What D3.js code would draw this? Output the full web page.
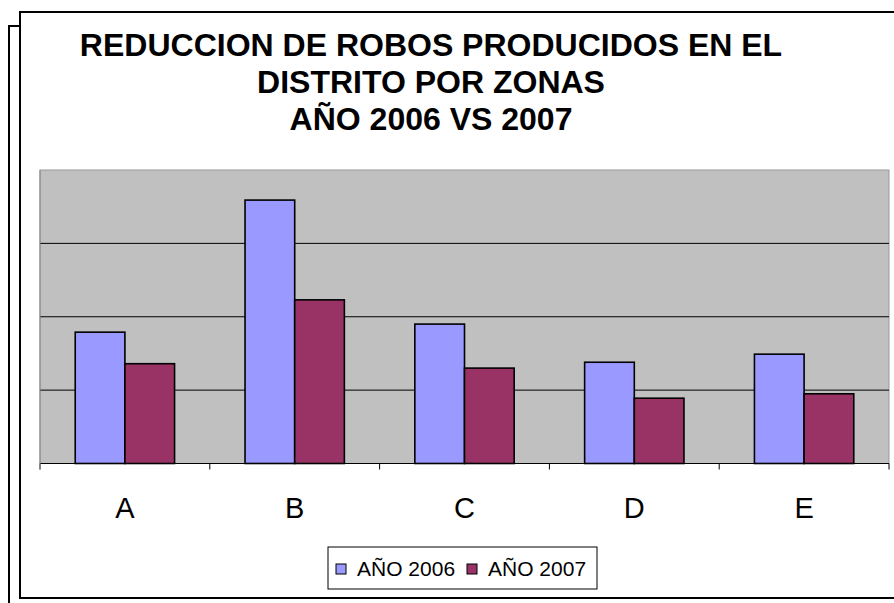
<!doctype html>
<html>
  <head>
    <meta charset="utf-8" />
    <title>Reduccion de robos</title>
    <style>
      body { margin: 0; background: #fff; }
      svg { display: block; font-family: "Liberation Sans", Arial, sans-serif; }
    </style>
  </head>
  <body>
    <svg id="chart" width="894" height="603"></svg>
    <script src="https://d3js.org/d3.v7.min.js"></script>
    <script>
      // data (no y labels shown, units are arbitrary)
      const zonas = ['A', 'B', 'C', 'D', 'E'];
      const series = ['AÑO 2006', 'AÑO 2007'];
      const valores2006 = [17.9, 35.9, 19.0, 13.8, 14.9];
      const valores2007 = [13.6, 22.3, 13.0, 8.9, 9.5];
      const colores = ['#9999FF', '#993366'];
      const titulo = [
        'REDUCCION DE ROBOS PRODUCIDOS EN EL',
        'DISTRITO POR ZONAS',
        'AÑO 2006 VS 2007',
      ];

      const svg = d3.select('#chart');

      // the two frames
      svg.append('rect')
        .attr('x', 9).attr('y', 26).attr('width', 900).attr('height', 600)
        .attr('fill', 'none').attr('stroke', '#000').attr('stroke-width', 2);
      svg.append('rect')
        .attr('x', 20).attr('y', 12).attr('width', 900).attr('height', 586)
        .attr('fill', '#fff').attr('stroke', '#000').attr('stroke-width', 2);

      // title
      svg.append('g')
        .selectAll('text')
        .data(titulo)
        .join('text')
        .attr('x', 431)
        .attr('y', (d, i) => 56 + i * 37)
        .attr('text-anchor', 'middle')
        .attr('font-size', 32)
        .attr('font-weight', 'bold')
        .text((d) => d);

      const plot = { left: 40, right: 889, top: 170, bottom: 463.5 };

      const x = d3.scaleBand().domain(zonas).range([plot.left, plot.right]);
      // the two bars fill the middle 58.5% of each band
      const x1 = d3.scaleBand().domain(series)
        .range([x.bandwidth() * 0.2075, x.bandwidth() * 0.7925]).padding(0);
      const y = d3.scaleLinear().domain([0, 40]).range([plot.bottom, plot.top]);

      // plot background
      svg.append('rect')
        .attr('x', plot.left).attr('y', plot.top)
        .attr('width', plot.right - plot.left)
        .attr('height', plot.bottom - plot.top)
        .attr('fill', '#C0C0C0').attr('stroke', '#999').attr('stroke-width', 1);

      // gridlines
      svg.append('g')
        .selectAll('line')
        .data([10, 20, 30])
        .join('line')
        .attr('x1', plot.left).attr('x2', plot.right)
        .attr('y1', (d) => y(d)).attr('y2', (d) => y(d))
        .attr('stroke', '#000').attr('stroke-width', 1);

      // bars
      const filas = zonas.map((z, i) => ({ zona: z, vals: [valores2006[i], valores2007[i]] }));
      svg.append('g')
        .selectAll('g')
        .data(filas)
        .join('g')
        .attr('transform', (d) => `translate(${x(d.zona)},0)`)
        .selectAll('rect')
        .data((d) => d.vals.map((v, j) => ({ serie: series[j], v, j })))
        .join('rect')
        .attr('x', (d) => x1(d.serie))
        .attr('y', (d) => y(d.v))
        .attr('width', x1.bandwidth())
        .attr('height', (d) => y(0) - y(d.v))
        .attr('fill', (d) => colores[d.j])
        .attr('stroke', '#000').attr('stroke-width', 1.6);

      // x axis
      const xAxis = svg.append('g')
        .attr('transform', `translate(0,${plot.bottom})`);
      xAxis.append('line')
        .attr('x1', plot.left).attr('x2', plot.right)
        .attr('stroke', '#000').attr('stroke-width', 1.2);
      xAxis.selectAll('line.tick')
        .data(zonas.map((z) => x(z)).concat([plot.right]))
        .join('line')
        .attr('class', 'tick')
        .attr('x1', (d) => d).attr('x2', (d) => d)
        .attr('y1', 0).attr('y2', 6)
        .attr('stroke', '#000');
      xAxis.selectAll('text')
        .data(zonas)
        .join('text')
        .attr('x', (d) => x(d) + x.bandwidth() / 2)
        .attr('y', 54.5)
        .attr('text-anchor', 'middle')
        .attr('font-size', 29)
        .text((d) => d);
      svg.append('line')
        .attr('x1', plot.left).attr('x2', plot.left)
        .attr('y1', plot.top).attr('y2', plot.bottom + 6)
        .attr('stroke', '#888');

      // legend
      const leg = svg.append('g').attr('transform', 'translate(328,547)');
      leg.append('rect')
        .attr('width', 269).attr('height', 42)
        .attr('fill', '#fff').attr('stroke', '#000').attr('stroke-width', 1);
      const items = leg.selectAll('g')
        .data(series)
        .join('g')
        .attr('transform', (d, i) => `translate(${8 + i * 131},0)`);
      items.append('rect')
        .attr('x', 0).attr('y', 17)
        .attr('width', 10).attr('height', 10)
        .attr('fill', (d, i) => colores[i])
        .attr('stroke', '#000').attr('stroke-width', 1);
      items.append('text')
        .attr('x', 21).attr('y', 29)
        .attr('font-size', 21)
        .text((d) => d);
    </script>
  </body>
</html>
